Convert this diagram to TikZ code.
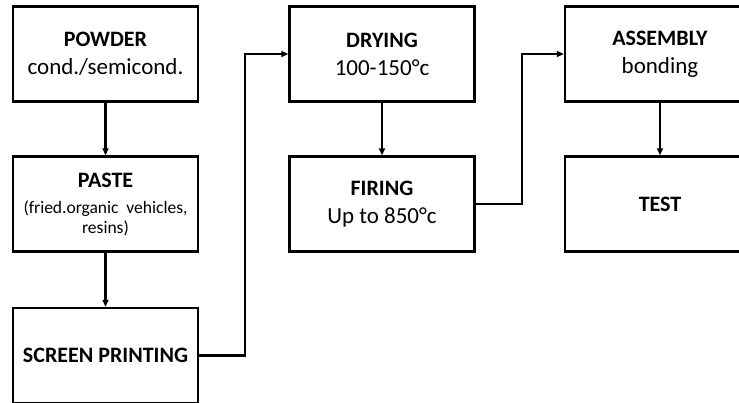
\documentclass[tikz,border=0pt]{standalone}
\usepackage{fontspec}
\setmainfont{Carlito}
\usetikzlibrary{arrows.meta}
\begin{document}
\begin{tikzpicture}[x=1pt,y=-1pt,
  box/.style={draw=black, line width=2.4pt, fill=white, minimum width=185pt, minimum height=95pt,
    inner sep=0pt, align=center, font=\fontsize{22}{28}\selectfont},
  wbox/.style={box, minimum width=190pt},
  sub/.style={},
  conn/.style={line width=2.1pt, -{Triangle[length=7pt,width=6pt]}}]
\useasboundingbox (0,0) rectangle (739,402);
\clip (0,0) rectangle (739,402);
\newcommand\subtxt{\fontsize{23}{28}\selectfont}
\newcommand\smalltxt{\fontsize{17.5}{20}\selectfont}
\node[box] (powder) at (105.5,54) {\textbf{POWDER}\\{\subtxt cond./semicond.}};
\node[box] (paste) at (105.5,204) {\textbf{PASTE}\\[-2pt]{\smalltxt(fried.organic\ \ vehicles,}\\[-8pt]{\smalltxt resins)}};
\node[box] (screen) at (105.5,355.5) {\textbf{SCREEN PRINTING}};
\node[box] (drying) at (382,54) {\textbf{DRYING}\\{\subtxt 100-150°c}};
\node[box] (firing) at (382,204) {\textbf{FIRING}\\{\subtxt Up to 850°c}};
\node[wbox] (asm) at (660,54) {\textbf{ASSEMBLY}\\{\subtxt bonding}};
\node[wbox] (test) at (660,204) {\textbf{TEST}};
\draw[conn] (powder.south) -- (paste.north);
\draw[conn] (paste.south) -- (screen.north);
\draw[conn] (screen.east) -- ++(46,0) |- (drying.west);
\draw[conn] (drying.south) -- (firing.north);
\draw[conn] (firing.east) -- ++(46,0) |- (asm.west);
\draw[conn] (asm.south) -- (test.north);
\end{tikzpicture}
\end{document}
